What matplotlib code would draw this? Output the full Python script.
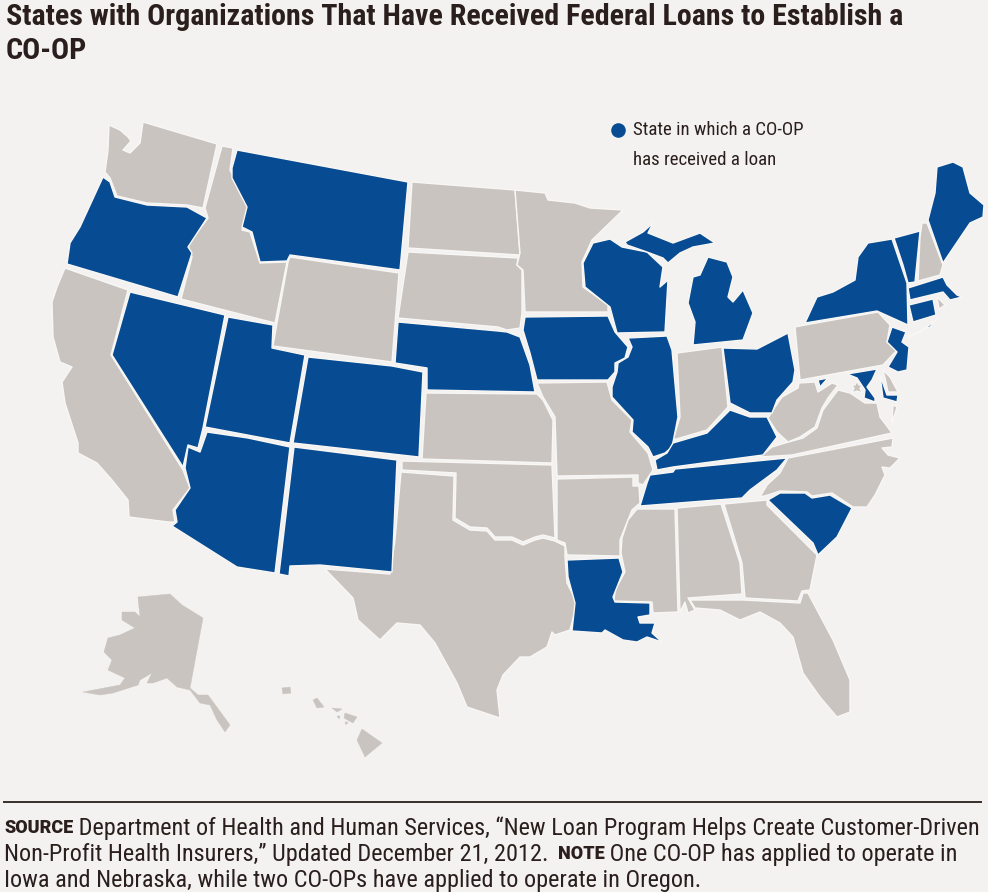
import matplotlib
matplotlib.use("Agg")
import matplotlib.pyplot as plt

BG = "#f3f2f0"; BLUE = "#074c92"; GRAY = "#c9c4bf"; EDGE = "#f8f7f5"; INK = "#2a1f1c"
NARROW = ["Roboto Condensed", "DejaVu Sans"]
HEAVY = ["Roboto", "DejaVu Sans"]

TITLE_LINES = ["States with Organizations That Have Received Federal Loans to Establish a", "CO-OP"]
LEGEND_LINES = ["State in which a CO-OP", "has received a loan"]
NOTE_RUNS = [
    [("SOURCE", True), (" Department of Health and Human Services, \u201cNew Loan Program Helps Create Customer-Driven", False)],
    [("Non-Profit Health Insurers,\u201d Updated December 21, 2012. ", False), ("NOTE", True), (" One CO-OP has applied to operate in", False)],
    [("Iowa and Nebraska, while two CO-OPs have applied to operate in Oregon.", False)],
]

# State outlines in picture coordinates
WA = [(109,125),(120,130),(128,137),(131,141),(123,150),(130,153),(140,143),(143,122),(217,144),(203,208),(187,205),(147,203),(117,196),(110,178),(105,172),(108,150)]
OR = [(103,177),(110,182),(115,197),(147,205),(187,207),(207,218),(188,247),(192,253),(178,297),(67,264),(70,243),(80,227)]
CA = [(65,268),(128,290),(111,355),(183,470),(190,488),(173,510),(175,522),(168,522),(129,517),(128,500),(112,480),(97,463),(78,453),(78,443),(65,403),(62,382),(72,367),(60,362),(53,337),(52,302),(57,287)]
ID = [(222,146),(233,148),(230,170),(248,207),(242,230),(250,232),(260,263),(287,262),(275,323),(181,299),(192,257),(188,245),(208,218),(205,208)]
NV = [(130,292),(225,315),(203,428),(198,448),(188,445),(183,467),(112,355)]
MT = [(237,150),(408,182),(400,270),(290,255),(287,261),(260,262),(252,232),(242,227),(247,207),(232,178),(232,168)]
WY = [(290,257),(399,273),(392,362),(273,346),(277,323),(288,262)]
UT = [(228,317),(273,325),(272,348),(305,355),(290,443),(205,427)]
AZ = [(207,432),(248,438),(290,447),(275,573),(237,567),(172,526),(177,522),(175,510),(190,488),(185,468),(188,447),(200,452)]
CO = [(308,357),(392,366),(423,372),(419,457),(293,443)]
NM = [(294,447),(397,460),(392,572),(320,565),(290,566),(289,576),(279,574)]
ND = [(412,182),(515,190),(520,255),(408,248)]
SD = [(408,252),(518,258),(517,265),(522,270),(522,313),(520,328),(507,330),(498,327),(398,318)]
NE = [(398,322),(498,331),(507,332),(520,337),(530,365),(535,392),(427,390),(427,368),(395,363)]
KS = [(426,393),(537,394),(543,400),(553,420),(552,463),(422,459)]
OK = [(402,461),(552,465),(555,538),(543,535),(535,537),(523,542),(512,537),(495,537),(487,528),(470,527),(455,518),(456,473),(402,470)]
TX = [(401,472),(454,476),(453,520),(470,530),(487,531),(495,540),(512,540),(523,545),(535,540),(543,538),(555,541),(565,546),(565,557),(567,583),(577,603),(570,630),(555,635),(552,632),(547,647),(530,657),(520,657),(503,675),(497,690),(500,718),(467,707),(457,683),(435,643),(420,625),(397,623),(380,640),(358,620),(353,598),(325,569),(390,574),(395,540)]
MN = [(515,190),(545,193),(548,200),(575,203),(590,208),(623,210),(592,240),(582,262),(583,287),(608,305),(608,312),(525,312),(523,270),(517,265),(520,253)]
IA = [(525,317),(608,316),(615,332),(628,347),(625,358),(615,363),(615,372),(608,380),(537,380),(530,353),(523,330)]
MO = [(537,383),(607,382),(612,400),(632,420),(630,432),(648,453),(653,470),(643,485),(638,483),(638,475),(557,476),(555,417),(543,397)]
AR = [(557,479),(633,477),(633,486),(639,486),(640,503),(632,510),(620,540),(620,556),(567,555),(565,543),(557,540)]
LA = [(567,560),(619,558),(623,572),(613,597),(615,602),(650,603),(650,615),(638,617),(640,623),(655,623),(652,633),(662,642),(647,637),(637,642),(623,640),(605,630),(602,633),(572,631),(575,603),(568,577)]
WI = [(610,239),(622,247),(647,252),(663,267),(660,287),(668,280),(665,332),(617,333),(610,307),(585,287),(583,263),(593,243)]
MI_UPPER = [(625,242),(643,232),(653,223),(648,233),(673,243),(700,233),(715,243),(693,247),(680,253),(668,263),(663,258),(647,252),(627,245)]
MI_LOWER = [(708,257),(727,262),(733,277),(728,297),(733,302),(743,290),(753,313),(743,340),(693,345),(695,322),(688,303),(693,277),(700,275)]
IL = [(628,338),(667,336),(672,350),(678,417),(672,447),(665,453),(653,457),(648,447),(632,432),(633,420),(612,397),(612,387),(617,372),(618,363),(628,357),(632,347)]
IN = [(677,353),(722,347),(728,407),(707,430),(673,440),(680,417)]
OH = [(723,348),(757,349),(788,333),(795,370),(793,382),(777,400),(772,413),(750,413),(730,403)]
KY = [(730,410),(750,417),(767,417),(777,437),(763,455),(673,467),(657,470),(655,460),(667,453),(673,443),(707,433)]
TN = [(787,458),(777,470),(750,490),(742,498),(640,506),(647,483),(650,475),(673,472),(675,469)]
MS = [(637,509),(675,509),(678,612),(653,613),(652,602),(614,601),(615,590),(625,572),(621,553),(622,538),(628,520)]
AL = [(677,508),(721,504),(740,563),(742,594),(688,598),(695,610),(688,613),(685,602),(680,612)]
GA = [(724,504),(767,500),(767,505),(817,555),(810,590),(802,591),(798,601),(745,598),(742,563)]
FL = [(690,600),(743,600),(800,603),(803,593),(808,593),(833,640),(850,680),(850,712),(837,717),(820,697),(803,673),(793,637),(780,623),(760,612),(740,620),(720,610),(695,608)]
SC = [(768,500),(780,493),(805,493),(812,498),(830,495),(852,508),(837,537),(818,555),(813,543)]
NC = [(788,458),(893,438),(892,447),(882,448),(888,455),(900,458),(890,468),(882,467),(885,475),(875,495),(867,507),(853,507),(832,493),(812,496),(807,492),(780,491),(768,495),(760,497),(767,485),(780,473)]
VA = [(760,457),(772,447),(785,443),(803,438),(817,428),(823,410),(838,390),(850,393),(865,403),(877,403),(880,417),(892,433),(792,455)]
VA_SHORE = [(893,405),(897,407),(892,423)]
WV = [(799,383),(815,382),(818,392),(832,383),(838,385),(828,398),(822,408),(815,427),(800,437),(788,442),(777,432),(768,418),(775,407),(782,397),(798,388)]
MD_WEST = [(818,380),(828,378),(820,387)]
MD_MAIN = [(847,374),(877,369),(872,380),(867,387),(875,398),(875,402),(864,398),(865,390),(857,378)]
MD_SHORE = [(880,375),(887,395),(898,395),(897,402),(883,398)]
DC = [(857,381),(859,385),(863,385),(860,388),(862,393),(857,391),(852,393),(854,388),(851,385),(855,385)]
DE = [(883,370),(890,377),(898,392),(888,392),(885,378)]
PA = [(795,327),(805,325),(878,312),(890,325),(887,342),(897,350),(883,365),(800,380)]
NJ = [(892,327),(906,332),(902,342),(909,347),(907,370),(898,372),(888,367),(897,352),(887,342)]
NY = [(805,323),(817,297),(833,292),(855,280),(858,257),(868,243),(892,239),(907,283),(908,325),(877,311)]
LONG_ISLAND = [(908,337),(927,327),(938,318),(930,327),(912,336)]
CT = [(909,305),(933,299),(936,315),(913,322)]
RI = [(937,297),(945,305),(939,309)]
MA = [(908,288),(943,277),(947,285),(957,295),(962,297),(950,300),(943,292),(910,300)]
VT = [(894,238),(920,231),(915,282),(908,283),(903,265)]
NH = [(922,223),(927,223),(943,265),(940,275),(918,281),(920,237)]
ME = [(937,167),(953,162),(963,167),(970,193),(984,205),(983,217),(970,223),(943,263),(928,220),(935,193)]
AK = [(138,597),(170,594),(182,605),(203,618),(190,688),(198,695),(208,695),(230,725),(225,732),(217,720),(210,705),(200,703),(190,690),(177,687),(167,678),(153,683),(147,683),(152,673),(140,680),(138,685),(113,693),(100,695),(83,692),(120,685),(125,678),(108,670),(112,660),(104,652),(108,638),(120,635),(135,628),(122,620),(122,612),(135,612),(140,617)]
HI_BIG = [(362,729),(382,743),(365,757),(357,740)]
HI_MAUI = [(345,713),(357,717),(353,723),(344,718)]
HI_MOLOKAI = [(332,708),(342,709),(337,712)]
HI_LANAI = [(337,716),(340,716),(339,719)]
HI_KAHOOLAWE = [(345,722),(348,722),(346,725)]
HI_OAHU = [(313,700),(317,698),(324,707),(317,708)]
HI_KAUAI = [(282,688),(290,687),(291,693),(283,694)]

NOT_FUNDED = [WA, CA, ID, WY, ND, SD, KS, OK, TX, MN, MO, AR, IN, MS, AL, GA, FL, NC, VA, DC, VA_SHORE, WV, DE, PA, RI, NH]
FUNDED = [OR, NV, MT, UT, AZ, CO, NM, NE, IA, LA, WI, MI_UPPER, MI_LOWER, IL, OH, KY, TN, SC, MD_WEST, MD_MAIN, MD_SHORE, NJ, NY, LONG_ISLAND, CT, MA, VT, ME]
OFFSHORE = [AK, HI_BIG, HI_MAUI, HI_MOLOKAI, HI_LANAI, HI_KAHOOLAWE, HI_OAHU, HI_KAUAI]

fig = plt.figure(figsize=(9.88, 8.92), dpi=100, facecolor=BG)
ax = fig.add_axes([0, 0, 1, 1])
ax.set_xlim(0, 988); ax.set_ylim(892, 0); ax.axis("off")

def draw(shape, color, edge=EDGE, lw=1.0):
    xs, ys = zip(*shape)
    ax.fill(xs, ys, facecolor=color, edgecolor=edge, linewidth=lw, joinstyle="round")

for s in NOT_FUNDED:
    draw(s, GRAY)
for s in FUNDED:
    draw(s, BLUE)
for s in OFFSHORE:
    draw(s, GRAY, edge=GRAY, lw=0.3)

for line, y in zip(TITLE_LINES, (17, 51)):
    ax.text(6, y, line, family=NARROW, fontweight="bold", fontsize=21.65, color=INK, va="center", ha="left")

ax.plot([618], [130], "o", ms=10.5, color=BLUE, mec="none")
for line, y in zip(LEGEND_LINES, (130, 160)):
    ax.text(633, y, line, family=NARROW, fontsize=13.6, color=INK, va="center", ha="left")

ax.plot([3, 982], [801.5, 801.5], color=INK, lw=1.3, solid_capstyle="butt")

fig.canvas.draw()
rend = fig.canvas.get_renderer()
for runs, y in zip(NOTE_RUNS, (826, 852, 878)):
    x = 4.0
    for txt, caps in runs:
        t = ax.text(x, y, txt, family=HEAVY if caps else NARROW,
                    fontweight=900 if caps else "normal", fontsize=13 if caps else 17.5,
                    color=INK, va="center_baseline", ha="left")
        w = t.get_window_extent(rend).width
        if txt.endswith(" "):
            w += 3.5
        x += w

fig.savefig("out.png", dpi=100, facecolor=BG)
